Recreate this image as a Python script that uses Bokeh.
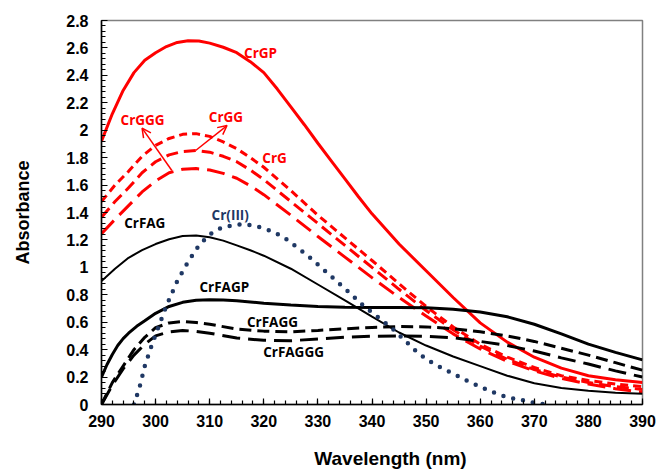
from bokeh.plotting import figure
from bokeh.models import FixedTicker, Label, Arrow, OpenHead, Range1d
from bokeh.embed import file_html
from bokeh.resources import INLINE

# ---------------- data ----------------
wl_gp = [290, 292, 294, 296, 298, 300, 302, 304, 306, 308, 310, 312.5, 315, 317.5, 320,
         322.5, 325, 327.5, 330, 332.5, 335, 337.5, 340, 345, 350, 355, 360, 365, 370,
         375, 380, 385, 390]
crgp = [1.92, 2.12, 2.29, 2.42, 2.51, 2.565, 2.61, 2.64, 2.652, 2.65, 2.635, 2.605, 2.565,
        2.50, 2.42, 2.30, 2.17, 2.04, 1.905, 1.775, 1.645, 1.515, 1.39, 1.17, 0.975, 0.78,
        0.595, 0.455, 0.345, 0.265, 0.21, 0.18, 0.16]

wl = [290, 292.5, 295, 297.5, 300, 302.5, 305, 307.5, 310, 312.5, 315, 317.5, 320,
      325, 330, 335, 340, 345, 350, 355, 360, 365, 370, 375, 380, 385, 390]
crg = [1.48, 1.60, 1.70, 1.81, 1.89, 1.94, 1.97, 1.975, 1.955, 1.915, 1.865, 1.80, 1.73,
       1.56, 1.38, 1.215, 1.05, 0.88, 0.715, 0.565, 0.44, 0.345, 0.27, 0.21, 0.175, 0.15, 0.13]
crgg = [1.365, 1.48, 1.58, 1.69, 1.77, 1.82, 1.845, 1.852, 1.84, 1.81, 1.77, 1.71, 1.64,
        1.48, 1.32, 1.16, 1.00, 0.84, 0.685, 0.545, 0.425, 0.33, 0.255, 0.20, 0.16, 0.13, 0.11]
crggg = [1.245, 1.35, 1.45, 1.55, 1.63, 1.69, 1.715, 1.72, 1.71, 1.685, 1.65, 1.595, 1.53,
         1.38, 1.225, 1.075, 0.925, 0.78, 0.645, 0.515, 0.405, 0.315, 0.245, 0.19, 0.15, 0.115, 0.09]
crfag = [0.90, 0.99, 1.07, 1.125, 1.17, 1.205, 1.228, 1.232, 1.22, 1.195, 1.16, 1.125, 1.085,
         0.99, 0.875, 0.76, 0.64, 0.525, 0.43, 0.35, 0.28, 0.21, 0.155, 0.12, 0.10, 0.085, 0.078]

wl_fagp = [290, 291, 292, 293, 294, 295, 296.5, 298, 300, 302.5, 305, 307.5, 310, 312.5, 315,
           317.5, 320, 325, 330, 335, 340, 345, 350, 355, 360, 365, 370, 375, 380, 385, 390]
crfagp = [0.20, 0.29, 0.365, 0.43, 0.48, 0.52, 0.57, 0.61, 0.665, 0.715, 0.745, 0.76, 0.763,
          0.762, 0.757, 0.748, 0.738, 0.725, 0.715, 0.71, 0.708, 0.707, 0.705, 0.695, 0.675,
          0.64, 0.585, 0.515, 0.44, 0.38, 0.325]

wl_fa = [290, 292, 294, 296, 298, 300, 302.5, 305, 307.5, 310, 315, 320, 325, 330,
         335, 340, 345, 350, 355, 360, 365, 370, 375, 380, 385, 390]
crfagg = [0.0, 0.16, 0.28, 0.40, 0.49, 0.56, 0.595, 0.605, 0.598, 0.585, 0.55, 0.535, 0.53, 0.54,
          0.552, 0.562, 0.568, 0.566, 0.553, 0.53, 0.50, 0.46, 0.41, 0.36, 0.305, 0.25]
crfaggg = [0.0, 0.14, 0.26, 0.36, 0.44, 0.50, 0.53, 0.54, 0.533, 0.52, 0.485, 0.468, 0.465, 0.478,
           0.49, 0.498, 0.50, 0.497, 0.487, 0.46, 0.43, 0.39, 0.34, 0.295, 0.245, 0.20]

wl_cr = [296, 297, 298, 299, 300, 302, 304, 306, 308, 310, 312, 314, 316, 318, 320, 322, 324,
         326, 328, 330, 332, 334, 336, 338, 340, 342, 344, 346, 348, 350, 352, 354, 356, 358,
         360, 362, 364, 366, 368, 370, 372]
cr3 = [0.0, 0.12, 0.28, 0.40, 0.51, 0.72, 0.90, 1.04, 1.16, 1.24, 1.285, 1.305, 1.315, 1.305,
       1.285, 1.255, 1.21, 1.15, 1.09, 1.02, 0.95, 0.88, 0.81, 0.735, 0.67, 0.61, 0.545, 0.47,
       0.395, 0.33, 0.285, 0.245, 0.205, 0.165, 0.13, 0.095, 0.065, 0.045, 0.03, 0.012, 0.0]

x_ticks = [290, 300, 310, 320, 330, 340, 350, 360, 370, 380, 390]
y_ticks = [0, 0.2, 0.4, 0.6, 0.8, 1.0, 1.2, 1.4, 1.6, 1.8, 2.0, 2.2, 2.4, 2.6, 2.8]
y_tick_labels = ["0", "0.2", "0.4", "0.6", "0.8", "1", "1.2", "1.4", "1.6", "1.8",
                 "2", "2.2", "2.4", "2.6", "2.8"]

RED = "#FF0000"
NAVY = "#1F3864"

# ---------------- figure ----------------
p = figure(width=658, height=471, output_backend="svg", toolbar_location=None,
           x_range=Range1d(290, 390), y_range=Range1d(0, 2.8),
           min_border_left=101, min_border_right=16, min_border_top=20, min_border_bottom=67)
p.xgrid.visible = False
p.ygrid.visible = False
p.outline_line_color = "#808080"
p.outline_line_width = 1.5
p.background_fill_color = "white"
p.border_fill_color = "white"

x_minor = [290 + 2 * i for i in range(51)]
y_minor = [round(0.04 * i, 2) for i in range(71)]
p.xaxis.ticker = FixedTicker(ticks=x_ticks, minor_ticks=x_minor)
p.yaxis.ticker = FixedTicker(ticks=y_ticks, minor_ticks=y_minor)
p.yaxis.major_label_overrides = {t: l for t, l in zip(y_ticks, y_tick_labels)}

for ax in (p.xaxis[0], p.yaxis[0]):
    ax.axis_line_color = "black"
    ax.axis_line_width = 1.5
    ax.major_tick_in = 6
    ax.major_tick_out = 0
    ax.minor_tick_in = 4
    ax.minor_tick_out = 0
    ax.major_tick_line_color = "black"
    ax.minor_tick_line_color = "black"
    ax.major_tick_line_width = 1.2
    ax.minor_tick_line_width = 1.2
    ax.major_label_text_font = "Liberation Sans"
    ax.major_label_text_font_style = "bold"
    ax.major_label_text_font_size = "16px"
    ax.major_label_text_color = "black"
    ax.axis_label_text_font = "Liberation Sans"
    ax.axis_label_text_font_style = "bold"
    ax.axis_label_text_color = "black"

p.xaxis.major_label_standoff = 10
p.yaxis.major_label_standoff = 13
p.yaxis.axis_label = "Absorbance"
p.yaxis.axis_label_text_font_size = "18px"
p.yaxis.axis_label_standoff = 30
# leading no-break spaces shift the centred title right, as in the original
p.xaxis.axis_label = "\u00a0" * 7 + "Wavelength (nm)"
p.xaxis.axis_label_text_font_size = "19px"
p.xaxis.axis_label_standoff = 18

# ---------------- curves ----------------
p.line(wl_gp, crgp, line_color=RED, line_width=3)
p.line(wl, crg, line_color=RED, line_width=3, line_dash="8 5")
p.line(wl, crgg, line_color=RED, line_width=3, line_dash="12 6")
p.line(wl, crggg, line_color=RED, line_width=3, line_dash="18 8")
p.line(wl, crfag, line_color="black", line_width=2)
p.line(wl_fagp, crfagp, line_color="black", line_width=3)
p.line(wl_fa, crfagg, line_color="black", line_width=3, line_dash="12 6")
p.line(wl_fa, crfaggg, line_color="black", line_width=3, line_dash="18 8")
p.line(wl_cr, cr3, line_color=NAVY, line_width=4.5, line_dash="0 10", line_cap="round")

# ---------------- labels ----------------
def lab(x, y, t, c):
    p.add_layout(Label(x=x, y=y, text=t, text_color=c, text_font="Open Sans",
                       text_font_style="bold", text_font_size="13.5px",
                       text_align="center", text_baseline="middle"))

lab(319.4, 2.563, "CrGP", RED)
lab(297.6, 2.078, "CrGGG", RED)
lab(313.0, 2.100, "CrGG", RED)
lab(322.0, 1.797, "CrG", RED)
lab(313.8, 1.385, "Cr(III)", NAVY)
lab(298.0, 1.320, "CrFAG", "black")
lab(312.7, 0.860, "CrFAGP", "black")
lab(321.6, 0.605, "CrFAGG", "black")
lab(325.5, 0.386, "CrFAGGG", "black")

p.add_layout(Arrow(end=OpenHead(size=9, line_color=RED, line_width=1.5),
                   x_start=303.0, y_start=1.706, x_end=297.5, y_end=2.015,
                   line_color=RED, line_width=1.5))
p.add_layout(Arrow(end=OpenHead(size=9, line_color=RED, line_width=1.5),
                   x_start=307.4, y_start=1.852, x_end=313.2, y_end=2.034,
                   line_color=RED, line_width=1.5))

open("out.html", "w").write(file_html(p, INLINE))
